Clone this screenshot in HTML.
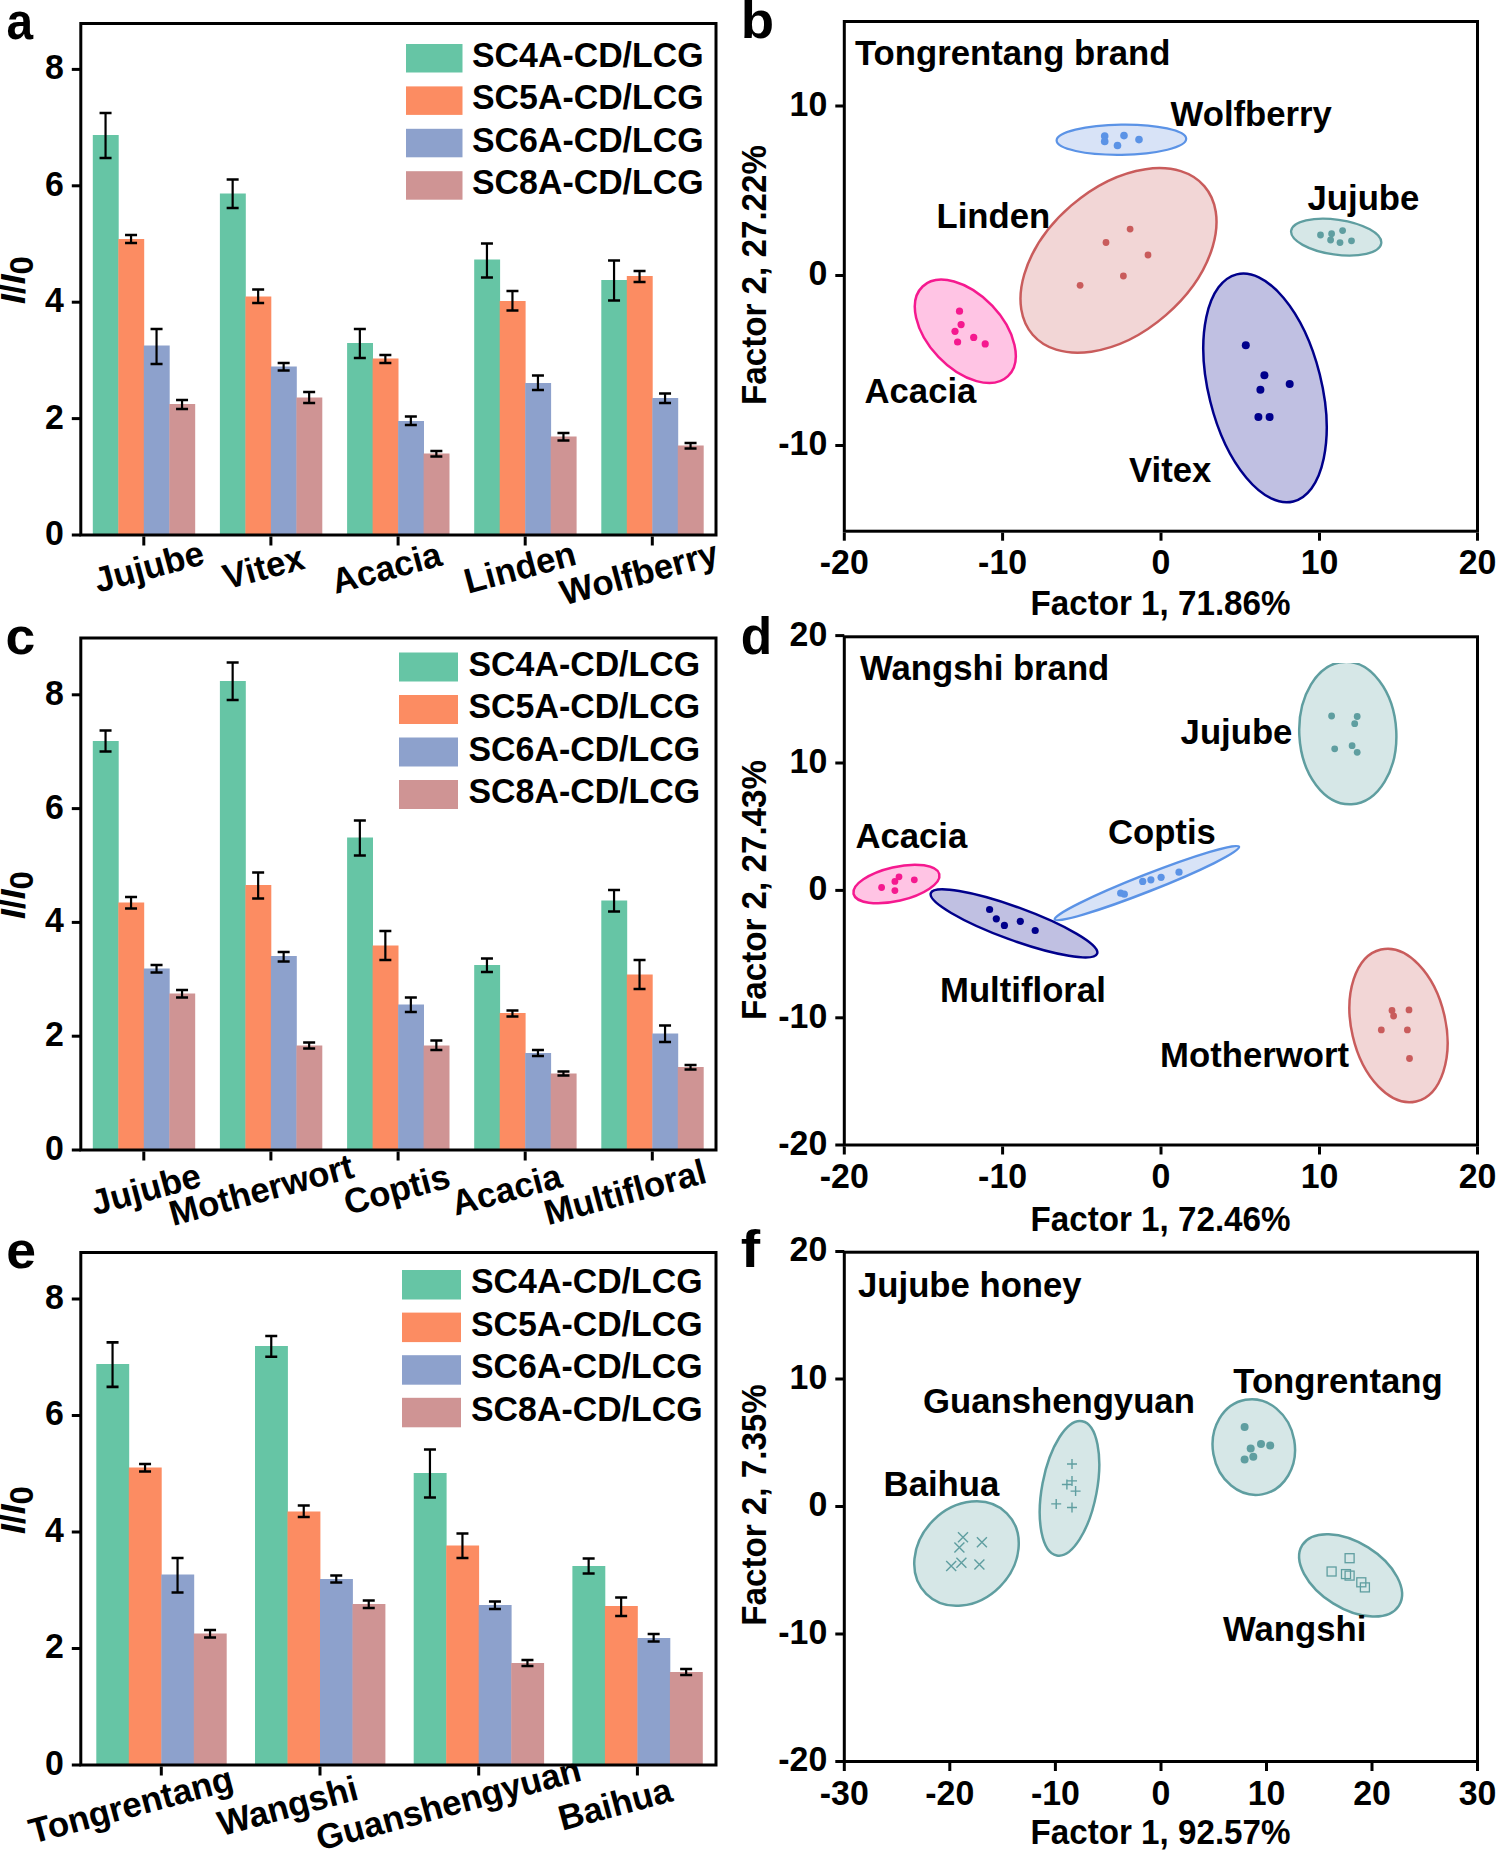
<!DOCTYPE html><html><head><meta charset="utf-8"><style>html,body{margin:0;padding:0;background:#fff;}svg{display:block;}text{font-family:"Liberation Sans",sans-serif;font-weight:bold;fill:#000;}</style></head><body>
<svg width="1496" height="1853" viewBox="0 0 1496 1853">
<rect width="1496" height="1853" fill="#fff"/>
<rect x="92.80" y="135" width="25.90" height="400.00" fill="#66c5a5"/>
<rect x="118.30" y="239" width="25.90" height="296.00" fill="#fc8c62"/>
<rect x="143.80" y="345.5" width="25.90" height="189.50" fill="#8da1cc"/>
<rect x="169.30" y="404" width="25.90" height="131.00" fill="#cf9494"/>
<path d="M105.55,113V158" stroke="#000" stroke-width="2.2" fill="none"/><path d="M99.55,113H111.55M99.55,158H111.55" stroke="#000" stroke-width="2.6" fill="none"/>
<path d="M131.05,235V243" stroke="#000" stroke-width="2.2" fill="none"/><path d="M125.05000000000001,235H137.05M125.05000000000001,243H137.05" stroke="#000" stroke-width="2.6" fill="none"/>
<path d="M156.55,329V364" stroke="#000" stroke-width="2.2" fill="none"/><path d="M150.55,329H162.55M150.55,364H162.55" stroke="#000" stroke-width="2.6" fill="none"/>
<path d="M182.05,400V409" stroke="#000" stroke-width="2.2" fill="none"/><path d="M176.05,400H188.05M176.05,409H188.05" stroke="#000" stroke-width="2.6" fill="none"/>
<rect x="219.90" y="193.5" width="25.90" height="341.50" fill="#66c5a5"/>
<rect x="245.40" y="296.5" width="25.90" height="238.50" fill="#fc8c62"/>
<rect x="270.90" y="366.5" width="25.90" height="168.50" fill="#8da1cc"/>
<rect x="296.40" y="397.5" width="25.90" height="137.50" fill="#cf9494"/>
<path d="M232.65,179.5V208" stroke="#000" stroke-width="2.2" fill="none"/><path d="M226.65,179.5H238.65M226.65,208H238.65" stroke="#000" stroke-width="2.6" fill="none"/>
<path d="M258.15,289.5V303" stroke="#000" stroke-width="2.2" fill="none"/><path d="M252.14999999999998,289.5H264.15M252.14999999999998,303H264.15" stroke="#000" stroke-width="2.6" fill="none"/>
<path d="M283.65,363V370.5" stroke="#000" stroke-width="2.2" fill="none"/><path d="M277.65,363H289.65M277.65,370.5H289.65" stroke="#000" stroke-width="2.6" fill="none"/>
<path d="M309.15,392V403" stroke="#000" stroke-width="2.2" fill="none"/><path d="M303.15,392H315.15M303.15,403H315.15" stroke="#000" stroke-width="2.6" fill="none"/>
<rect x="347.10" y="343" width="25.90" height="192.00" fill="#66c5a5"/>
<rect x="372.60" y="358.5" width="25.90" height="176.50" fill="#fc8c62"/>
<rect x="398.10" y="421" width="25.90" height="114.00" fill="#8da1cc"/>
<rect x="423.60" y="453.5" width="25.90" height="81.50" fill="#cf9494"/>
<path d="M359.85,329V358" stroke="#000" stroke-width="2.2" fill="none"/><path d="M353.85,329H365.85M353.85,358H365.85" stroke="#000" stroke-width="2.6" fill="none"/>
<path d="M385.35,355V363" stroke="#000" stroke-width="2.2" fill="none"/><path d="M379.35,355H391.35M379.35,363H391.35" stroke="#000" stroke-width="2.6" fill="none"/>
<path d="M410.85,416.5V425" stroke="#000" stroke-width="2.2" fill="none"/><path d="M404.85,416.5H416.85M404.85,425H416.85" stroke="#000" stroke-width="2.6" fill="none"/>
<path d="M436.35,451V456.5" stroke="#000" stroke-width="2.2" fill="none"/><path d="M430.35,451H442.35M430.35,456.5H442.35" stroke="#000" stroke-width="2.6" fill="none"/>
<rect x="474.20" y="259.5" width="25.90" height="275.50" fill="#66c5a5"/>
<rect x="499.70" y="301" width="25.90" height="234.00" fill="#fc8c62"/>
<rect x="525.20" y="383" width="25.90" height="152.00" fill="#8da1cc"/>
<rect x="550.70" y="436.5" width="25.90" height="98.50" fill="#cf9494"/>
<path d="M486.95,243.5V277.5" stroke="#000" stroke-width="2.2" fill="none"/><path d="M480.95,243.5H492.95M480.95,277.5H492.95" stroke="#000" stroke-width="2.6" fill="none"/>
<path d="M512.45,291V310.5" stroke="#000" stroke-width="2.2" fill="none"/><path d="M506.45000000000005,291H518.45M506.45000000000005,310.5H518.45" stroke="#000" stroke-width="2.6" fill="none"/>
<path d="M537.95,375.5V390" stroke="#000" stroke-width="2.2" fill="none"/><path d="M531.95,375.5H543.95M531.95,390H543.95" stroke="#000" stroke-width="2.6" fill="none"/>
<path d="M563.45,433V440.5" stroke="#000" stroke-width="2.2" fill="none"/><path d="M557.45,433H569.45M557.45,440.5H569.45" stroke="#000" stroke-width="2.6" fill="none"/>
<rect x="601.30" y="280" width="25.90" height="255.00" fill="#66c5a5"/>
<rect x="626.80" y="276" width="25.90" height="259.00" fill="#fc8c62"/>
<rect x="652.30" y="398" width="25.90" height="137.00" fill="#8da1cc"/>
<rect x="677.80" y="445.5" width="25.90" height="89.50" fill="#cf9494"/>
<path d="M614.05,260.5V300.5" stroke="#000" stroke-width="2.2" fill="none"/><path d="M608.05,260.5H620.05M608.05,300.5H620.05" stroke="#000" stroke-width="2.6" fill="none"/>
<path d="M639.55,271V282" stroke="#000" stroke-width="2.2" fill="none"/><path d="M633.55,271H645.55M633.55,282H645.55" stroke="#000" stroke-width="2.6" fill="none"/>
<path d="M665.05,393.5V403" stroke="#000" stroke-width="2.2" fill="none"/><path d="M659.05,393.5H671.05M659.05,403H671.05" stroke="#000" stroke-width="2.6" fill="none"/>
<path d="M690.55,443V448.5" stroke="#000" stroke-width="2.2" fill="none"/><path d="M684.55,443H696.55M684.55,448.5H696.55" stroke="#000" stroke-width="2.6" fill="none"/>
<rect x="80.8" y="23.5" width="635.2" height="511.5" fill="none" stroke="#000" stroke-width="3"/>
<line x1="71.8" y1="535.0" x2="80.8" y2="535.0" stroke="#000" stroke-width="3"/>
<text transform="translate(63.8,544.9) scale(0.96,1)" text-anchor="end" font-size="35.3" >0</text>
<line x1="71.8" y1="418.6" x2="80.8" y2="418.6" stroke="#000" stroke-width="3"/>
<text transform="translate(63.8,428.5) scale(0.96,1)" text-anchor="end" font-size="35.3" >2</text>
<line x1="71.8" y1="302.2" x2="80.8" y2="302.2" stroke="#000" stroke-width="3"/>
<text transform="translate(63.8,312.09999999999997) scale(0.96,1)" text-anchor="end" font-size="35.3" >4</text>
<line x1="71.8" y1="185.79999999999995" x2="80.8" y2="185.79999999999995" stroke="#000" stroke-width="3"/>
<text transform="translate(63.8,195.69999999999996) scale(0.96,1)" text-anchor="end" font-size="35.3" >6</text>
<line x1="71.8" y1="69.39999999999998" x2="80.8" y2="69.39999999999998" stroke="#000" stroke-width="3"/>
<text transform="translate(63.8,79.29999999999998) scale(0.96,1)" text-anchor="end" font-size="35.3" >8</text>
<line x1="143.8" y1="536.5" x2="143.8" y2="545.5" stroke="#000" stroke-width="3"/>
<line x1="270.9" y1="536.5" x2="270.9" y2="545.5" stroke="#000" stroke-width="3"/>
<line x1="398.1" y1="536.5" x2="398.1" y2="545.5" stroke="#000" stroke-width="3"/>
<line x1="525.2" y1="536.5" x2="525.2" y2="545.5" stroke="#000" stroke-width="3"/>
<line x1="652.3" y1="536.5" x2="652.3" y2="545.5" stroke="#000" stroke-width="3"/>
<rect x="406" y="44.0" width="56.5" height="28.5" fill="#66c5a5"/>
<text transform="translate(472,66.75) scale(0.96,1)" text-anchor="start" font-size="35.3" >SC4A-CD/LCG</text>
<rect x="406" y="86.4" width="56.5" height="28.5" fill="#fc8c62"/>
<text transform="translate(472,109.15) scale(0.96,1)" text-anchor="start" font-size="35.3" >SC5A-CD/LCG</text>
<rect x="406" y="128.8" width="56.5" height="28.5" fill="#8da1cc"/>
<text transform="translate(472,151.55) scale(0.96,1)" text-anchor="start" font-size="35.3" >SC6A-CD/LCG</text>
<rect x="406" y="171.2" width="56.5" height="28.5" fill="#cf9494"/>
<text transform="translate(472,193.95) scale(0.96,1)" text-anchor="start" font-size="35.3" >SC8A-CD/LCG</text>
<text class="rl" transform="translate(149,566.6) rotate(-15) scale(0.985,1)" x="0" y="12" text-anchor="middle" font-size="35.3">Jujube</text>
<text class="rl" transform="translate(263.5,567.3) rotate(-15) scale(0.985,1)" x="0" y="12" text-anchor="middle" font-size="35.3">Vitex</text>
<text class="rl" transform="translate(386.5,568) rotate(-15) scale(0.985,1)" x="0" y="12" text-anchor="middle" font-size="35.3">Acacia</text>
<text class="rl" transform="translate(520,567.3) rotate(-15) scale(0.985,1)" x="0" y="12" text-anchor="middle" font-size="35.3">Linden</text>
<text class="rl" transform="translate(639,573) rotate(-15) scale(0.985,1)" x="0" y="12" text-anchor="middle" font-size="35.3">Wolfberry</text>
<text transform="translate(6.5,38.9) scale(0.92,1)" text-anchor="start" font-size="52" >a</text>
<text transform="translate(25,280) rotate(-90)" x="0" y="0" text-anchor="middle" font-size="35.3"><tspan font-style="italic">I</tspan>/<tspan font-style="italic">I</tspan><tspan font-size="33" dy="8">0</tspan></text>
<rect x="92.80" y="741" width="25.90" height="409.00" fill="#66c5a5"/>
<rect x="118.30" y="902.5" width="25.90" height="247.50" fill="#fc8c62"/>
<rect x="143.80" y="968.5" width="25.90" height="181.50" fill="#8da1cc"/>
<rect x="169.30" y="993.5" width="25.90" height="156.50" fill="#cf9494"/>
<path d="M105.55,730.5V751.5" stroke="#000" stroke-width="2.2" fill="none"/><path d="M99.55,730.5H111.55M99.55,751.5H111.55" stroke="#000" stroke-width="2.6" fill="none"/>
<path d="M131.05,897V908.5" stroke="#000" stroke-width="2.2" fill="none"/><path d="M125.05000000000001,897H137.05M125.05000000000001,908.5H137.05" stroke="#000" stroke-width="2.6" fill="none"/>
<path d="M156.55,965V972.5" stroke="#000" stroke-width="2.2" fill="none"/><path d="M150.55,965H162.55M150.55,972.5H162.55" stroke="#000" stroke-width="2.6" fill="none"/>
<path d="M182.05,990V997.5" stroke="#000" stroke-width="2.2" fill="none"/><path d="M176.05,990H188.05M176.05,997.5H188.05" stroke="#000" stroke-width="2.6" fill="none"/>
<rect x="219.90" y="681" width="25.90" height="469.00" fill="#66c5a5"/>
<rect x="245.40" y="885" width="25.90" height="265.00" fill="#fc8c62"/>
<rect x="270.90" y="956" width="25.90" height="194.00" fill="#8da1cc"/>
<rect x="296.40" y="1045.5" width="25.90" height="104.50" fill="#cf9494"/>
<path d="M232.65,662.5V700" stroke="#000" stroke-width="2.2" fill="none"/><path d="M226.65,662.5H238.65M226.65,700H238.65" stroke="#000" stroke-width="2.6" fill="none"/>
<path d="M258.15,872.5V898.5" stroke="#000" stroke-width="2.2" fill="none"/><path d="M252.14999999999998,872.5H264.15M252.14999999999998,898.5H264.15" stroke="#000" stroke-width="2.6" fill="none"/>
<path d="M283.65,952V961.5" stroke="#000" stroke-width="2.2" fill="none"/><path d="M277.65,952H289.65M277.65,961.5H289.65" stroke="#000" stroke-width="2.6" fill="none"/>
<path d="M309.15,1042.5V1048.5" stroke="#000" stroke-width="2.2" fill="none"/><path d="M303.15,1042.5H315.15M303.15,1048.5H315.15" stroke="#000" stroke-width="2.6" fill="none"/>
<rect x="347.10" y="837.5" width="25.90" height="312.50" fill="#66c5a5"/>
<rect x="372.60" y="945.5" width="25.90" height="204.50" fill="#fc8c62"/>
<rect x="398.10" y="1004.5" width="25.90" height="145.50" fill="#8da1cc"/>
<rect x="423.60" y="1045.5" width="25.90" height="104.50" fill="#cf9494"/>
<path d="M359.85,820.5V855.5" stroke="#000" stroke-width="2.2" fill="none"/><path d="M353.85,820.5H365.85M353.85,855.5H365.85" stroke="#000" stroke-width="2.6" fill="none"/>
<path d="M385.35,931V960" stroke="#000" stroke-width="2.2" fill="none"/><path d="M379.35,931H391.35M379.35,960H391.35" stroke="#000" stroke-width="2.6" fill="none"/>
<path d="M410.85,997.5V1012" stroke="#000" stroke-width="2.2" fill="none"/><path d="M404.85,997.5H416.85M404.85,1012H416.85" stroke="#000" stroke-width="2.6" fill="none"/>
<path d="M436.35,1040.5V1050" stroke="#000" stroke-width="2.2" fill="none"/><path d="M430.35,1040.5H442.35M430.35,1050H442.35" stroke="#000" stroke-width="2.6" fill="none"/>
<rect x="474.20" y="965" width="25.90" height="185.00" fill="#66c5a5"/>
<rect x="499.70" y="1013" width="25.90" height="137.00" fill="#fc8c62"/>
<rect x="525.20" y="1053" width="25.90" height="97.00" fill="#8da1cc"/>
<rect x="550.70" y="1073.5" width="25.90" height="76.50" fill="#cf9494"/>
<path d="M486.95,958.5V972" stroke="#000" stroke-width="2.2" fill="none"/><path d="M480.95,958.5H492.95M480.95,972H492.95" stroke="#000" stroke-width="2.6" fill="none"/>
<path d="M512.45,1010.5V1016.5" stroke="#000" stroke-width="2.2" fill="none"/><path d="M506.45000000000005,1010.5H518.45M506.45000000000005,1016.5H518.45" stroke="#000" stroke-width="2.6" fill="none"/>
<path d="M537.95,1050V1056" stroke="#000" stroke-width="2.2" fill="none"/><path d="M531.95,1050H543.95M531.95,1056H543.95" stroke="#000" stroke-width="2.6" fill="none"/>
<path d="M563.45,1071.5V1075.5" stroke="#000" stroke-width="2.2" fill="none"/><path d="M557.45,1071.5H569.45M557.45,1075.5H569.45" stroke="#000" stroke-width="2.6" fill="none"/>
<rect x="601.30" y="900.5" width="25.90" height="249.50" fill="#66c5a5"/>
<rect x="626.80" y="974.5" width="25.90" height="175.50" fill="#fc8c62"/>
<rect x="652.30" y="1033.5" width="25.90" height="116.50" fill="#8da1cc"/>
<rect x="677.80" y="1067" width="25.90" height="83.00" fill="#cf9494"/>
<path d="M614.05,890V911.5" stroke="#000" stroke-width="2.2" fill="none"/><path d="M608.05,890H620.05M608.05,911.5H620.05" stroke="#000" stroke-width="2.6" fill="none"/>
<path d="M639.55,960V989" stroke="#000" stroke-width="2.2" fill="none"/><path d="M633.55,960H645.55M633.55,989H645.55" stroke="#000" stroke-width="2.6" fill="none"/>
<path d="M665.05,1025.5V1042" stroke="#000" stroke-width="2.2" fill="none"/><path d="M659.05,1025.5H671.05M659.05,1042H671.05" stroke="#000" stroke-width="2.6" fill="none"/>
<path d="M690.55,1065V1069.5" stroke="#000" stroke-width="2.2" fill="none"/><path d="M684.55,1065H696.55M684.55,1069.5H696.55" stroke="#000" stroke-width="2.6" fill="none"/>
<rect x="80.8" y="638" width="635.2" height="512" fill="none" stroke="#000" stroke-width="3"/>
<line x1="71.8" y1="1150.0" x2="80.8" y2="1150.0" stroke="#000" stroke-width="3"/>
<text transform="translate(63.8,1159.9) scale(0.96,1)" text-anchor="end" font-size="35.3" >0</text>
<line x1="71.8" y1="1036.2" x2="80.8" y2="1036.2" stroke="#000" stroke-width="3"/>
<text transform="translate(63.8,1046.1000000000001) scale(0.96,1)" text-anchor="end" font-size="35.3" >2</text>
<line x1="71.8" y1="922.4" x2="80.8" y2="922.4" stroke="#000" stroke-width="3"/>
<text transform="translate(63.8,932.3) scale(0.96,1)" text-anchor="end" font-size="35.3" >4</text>
<line x1="71.8" y1="808.6" x2="80.8" y2="808.6" stroke="#000" stroke-width="3"/>
<text transform="translate(63.8,818.5) scale(0.96,1)" text-anchor="end" font-size="35.3" >6</text>
<line x1="71.8" y1="694.8" x2="80.8" y2="694.8" stroke="#000" stroke-width="3"/>
<text transform="translate(63.8,704.6999999999999) scale(0.96,1)" text-anchor="end" font-size="35.3" >8</text>
<line x1="143.8" y1="1151.5" x2="143.8" y2="1160.5" stroke="#000" stroke-width="3"/>
<line x1="270.9" y1="1151.5" x2="270.9" y2="1160.5" stroke="#000" stroke-width="3"/>
<line x1="398.1" y1="1151.5" x2="398.1" y2="1160.5" stroke="#000" stroke-width="3"/>
<line x1="525.2" y1="1151.5" x2="525.2" y2="1160.5" stroke="#000" stroke-width="3"/>
<line x1="652.3" y1="1151.5" x2="652.3" y2="1160.5" stroke="#000" stroke-width="3"/>
<rect x="399" y="652.5" width="59" height="29" fill="#66c5a5"/>
<text transform="translate(468.5,675.5) scale(0.96,1)" text-anchor="start" font-size="35.3" >SC4A-CD/LCG</text>
<rect x="399" y="695.0" width="59" height="29" fill="#fc8c62"/>
<text transform="translate(468.5,718.0) scale(0.96,1)" text-anchor="start" font-size="35.3" >SC5A-CD/LCG</text>
<rect x="399" y="737.5" width="59" height="29" fill="#8da1cc"/>
<text transform="translate(468.5,760.5) scale(0.96,1)" text-anchor="start" font-size="35.3" >SC6A-CD/LCG</text>
<rect x="399" y="780.0" width="59" height="29" fill="#cf9494"/>
<text transform="translate(468.5,803.0) scale(0.96,1)" text-anchor="start" font-size="35.3" >SC8A-CD/LCG</text>
<text class="rl" transform="translate(145.7,1189.2) rotate(-15) scale(0.985,1)" x="0" y="12" text-anchor="middle" font-size="35.3">Jujube</text>
<text class="rl" transform="translate(261.3,1190) rotate(-15) scale(0.985,1)" x="0" y="12" text-anchor="middle" font-size="35.3">Motherwort</text>
<text class="rl" transform="translate(396.8,1189.5) rotate(-15) scale(0.985,1)" x="0" y="12" text-anchor="middle" font-size="35.3">Coptis</text>
<text class="rl" transform="translate(506.6,1189.6) rotate(-15) scale(0.985,1)" x="0" y="12" text-anchor="middle" font-size="35.3">Acacia</text>
<text class="rl" transform="translate(625,1192.1) rotate(-15) scale(0.985,1)" x="0" y="12" text-anchor="middle" font-size="35.3">Multifloral</text>
<text transform="translate(5.4,653.8) scale(1.03,1)" text-anchor="start" font-size="52" >c</text>
<text transform="translate(25,895) rotate(-90)" x="0" y="0" text-anchor="middle" font-size="35.3"><tspan font-style="italic">I</tspan>/<tspan font-style="italic">I</tspan><tspan font-size="33" dy="8">0</tspan></text>
<rect x="96.30" y="1364" width="32.90" height="401.00" fill="#66c5a5"/>
<rect x="128.80" y="1467.5" width="32.90" height="297.50" fill="#fc8c62"/>
<rect x="161.30" y="1574.5" width="32.90" height="190.50" fill="#8da1cc"/>
<rect x="193.80" y="1633.5" width="32.90" height="131.50" fill="#cf9494"/>
<path d="M112.55,1342.4V1386.9" stroke="#000" stroke-width="2.2" fill="none"/><path d="M106.55,1342.4H118.55M106.55,1386.9H118.55" stroke="#000" stroke-width="2.6" fill="none"/>
<path d="M145.05,1464V1471.5" stroke="#000" stroke-width="2.2" fill="none"/><path d="M139.05,1464H151.05M139.05,1471.5H151.05" stroke="#000" stroke-width="2.6" fill="none"/>
<path d="M177.55,1558V1592.5" stroke="#000" stroke-width="2.2" fill="none"/><path d="M171.55,1558H183.55M171.55,1592.5H183.55" stroke="#000" stroke-width="2.6" fill="none"/>
<path d="M210.05,1630V1637.5" stroke="#000" stroke-width="2.2" fill="none"/><path d="M204.05,1630H216.05M204.05,1637.5H216.05" stroke="#000" stroke-width="2.6" fill="none"/>
<rect x="255.00" y="1346" width="32.90" height="419.00" fill="#66c5a5"/>
<rect x="287.50" y="1511.5" width="32.90" height="253.50" fill="#fc8c62"/>
<rect x="320.00" y="1579" width="32.90" height="186.00" fill="#8da1cc"/>
<rect x="352.50" y="1604" width="32.90" height="161.00" fill="#cf9494"/>
<path d="M271.25,1336V1356.7" stroke="#000" stroke-width="2.2" fill="none"/><path d="M265.25,1336H277.25M265.25,1356.7H277.25" stroke="#000" stroke-width="2.6" fill="none"/>
<path d="M303.75,1505.5V1517" stroke="#000" stroke-width="2.2" fill="none"/><path d="M297.75,1505.5H309.75M297.75,1517H309.75" stroke="#000" stroke-width="2.6" fill="none"/>
<path d="M336.25,1575.5V1582.5" stroke="#000" stroke-width="2.2" fill="none"/><path d="M330.25,1575.5H342.25M330.25,1582.5H342.25" stroke="#000" stroke-width="2.6" fill="none"/>
<path d="M368.75,1600.5V1608" stroke="#000" stroke-width="2.2" fill="none"/><path d="M362.75,1600.5H374.75M362.75,1608H374.75" stroke="#000" stroke-width="2.6" fill="none"/>
<rect x="413.70" y="1473" width="32.90" height="292.00" fill="#66c5a5"/>
<rect x="446.20" y="1545.5" width="32.90" height="219.50" fill="#fc8c62"/>
<rect x="478.70" y="1605" width="32.90" height="160.00" fill="#8da1cc"/>
<rect x="511.20" y="1663" width="32.90" height="102.00" fill="#cf9494"/>
<path d="M429.95,1449.5V1497.5" stroke="#000" stroke-width="2.2" fill="none"/><path d="M423.95,1449.5H435.95M423.95,1497.5H435.95" stroke="#000" stroke-width="2.6" fill="none"/>
<path d="M462.45,1533.5V1558" stroke="#000" stroke-width="2.2" fill="none"/><path d="M456.45,1533.5H468.45M456.45,1558H468.45" stroke="#000" stroke-width="2.6" fill="none"/>
<path d="M494.95,1601.5V1609" stroke="#000" stroke-width="2.2" fill="none"/><path d="M488.95,1601.5H500.95M488.95,1609H500.95" stroke="#000" stroke-width="2.6" fill="none"/>
<path d="M527.45,1660V1666" stroke="#000" stroke-width="2.2" fill="none"/><path d="M521.45,1660H533.45M521.45,1666H533.45" stroke="#000" stroke-width="2.6" fill="none"/>
<rect x="572.40" y="1566" width="32.90" height="199.00" fill="#66c5a5"/>
<rect x="604.90" y="1606" width="32.90" height="159.00" fill="#fc8c62"/>
<rect x="637.40" y="1638" width="32.90" height="127.00" fill="#8da1cc"/>
<rect x="669.90" y="1672" width="32.90" height="93.00" fill="#cf9494"/>
<path d="M588.65,1558.5V1573.5" stroke="#000" stroke-width="2.2" fill="none"/><path d="M582.65,1558.5H594.65M582.65,1573.5H594.65" stroke="#000" stroke-width="2.6" fill="none"/>
<path d="M621.15,1597.5V1616" stroke="#000" stroke-width="2.2" fill="none"/><path d="M615.15,1597.5H627.15M615.15,1616H627.15" stroke="#000" stroke-width="2.6" fill="none"/>
<path d="M653.65,1634V1641.5" stroke="#000" stroke-width="2.2" fill="none"/><path d="M647.65,1634H659.65M647.65,1641.5H659.65" stroke="#000" stroke-width="2.6" fill="none"/>
<path d="M686.15,1669V1675" stroke="#000" stroke-width="2.2" fill="none"/><path d="M680.15,1669H692.15M680.15,1675H692.15" stroke="#000" stroke-width="2.6" fill="none"/>
<rect x="80.8" y="1252.5" width="635.2" height="512.5" fill="none" stroke="#000" stroke-width="3"/>
<line x1="71.8" y1="1765.0" x2="80.8" y2="1765.0" stroke="#000" stroke-width="3"/>
<text transform="translate(63.8,1774.9) scale(0.96,1)" text-anchor="end" font-size="35.3" >0</text>
<line x1="71.8" y1="1648.5" x2="80.8" y2="1648.5" stroke="#000" stroke-width="3"/>
<text transform="translate(63.8,1658.4) scale(0.96,1)" text-anchor="end" font-size="35.3" >2</text>
<line x1="71.8" y1="1532.0" x2="80.8" y2="1532.0" stroke="#000" stroke-width="3"/>
<text transform="translate(63.8,1541.9) scale(0.96,1)" text-anchor="end" font-size="35.3" >4</text>
<line x1="71.8" y1="1415.5" x2="80.8" y2="1415.5" stroke="#000" stroke-width="3"/>
<text transform="translate(63.8,1425.4) scale(0.96,1)" text-anchor="end" font-size="35.3" >6</text>
<line x1="71.8" y1="1299.0" x2="80.8" y2="1299.0" stroke="#000" stroke-width="3"/>
<text transform="translate(63.8,1308.9) scale(0.96,1)" text-anchor="end" font-size="35.3" >8</text>
<line x1="161.3" y1="1766.5" x2="161.3" y2="1775.5" stroke="#000" stroke-width="3"/>
<line x1="320.0" y1="1766.5" x2="320.0" y2="1775.5" stroke="#000" stroke-width="3"/>
<line x1="478.7" y1="1766.5" x2="478.7" y2="1775.5" stroke="#000" stroke-width="3"/>
<line x1="637.4" y1="1766.5" x2="637.4" y2="1775.5" stroke="#000" stroke-width="3"/>
<rect x="402" y="1270.0" width="59" height="29.5" fill="#66c5a5"/>
<text transform="translate(471,1293.25) scale(0.96,1)" text-anchor="start" font-size="35.3" >SC4A-CD/LCG</text>
<rect x="402" y="1312.6" width="59" height="29.5" fill="#fc8c62"/>
<text transform="translate(471,1335.85) scale(0.96,1)" text-anchor="start" font-size="35.3" >SC5A-CD/LCG</text>
<rect x="402" y="1355.2" width="59" height="29.5" fill="#8da1cc"/>
<text transform="translate(471,1378.45) scale(0.96,1)" text-anchor="start" font-size="35.3" >SC6A-CD/LCG</text>
<rect x="402" y="1397.8" width="59" height="29.5" fill="#cf9494"/>
<text transform="translate(471,1421.05) scale(0.96,1)" text-anchor="start" font-size="35.3" >SC8A-CD/LCG</text>
<text class="rl" transform="translate(130.9,1805) rotate(-15) scale(0.985,1)" x="0" y="12" text-anchor="middle" font-size="35.3">Tongrentang</text>
<text class="rl" transform="translate(287.7,1806) rotate(-15) scale(0.985,1)" x="0" y="12" text-anchor="middle" font-size="35.3">Wangshi</text>
<text class="rl" transform="translate(448.5,1804) rotate(-15) scale(0.985,1)" x="0" y="12" text-anchor="middle" font-size="35.3">Guanshengyuan</text>
<text class="rl" transform="translate(615,1804.2) rotate(-15) scale(0.985,1)" x="0" y="12" text-anchor="middle" font-size="35.3">Baihua</text>
<text transform="translate(6.2,1267.9) scale(1.03,1)" text-anchor="start" font-size="52" >e</text>
<text transform="translate(25,1510) rotate(-90)" x="0" y="0" text-anchor="middle" font-size="35.3"><tspan font-style="italic">I</tspan>/<tspan font-style="italic">I</tspan><tspan font-size="33" dy="8">0</tspan></text>
<rect x="844.3" y="21.5" width="633.2" height="509.70000000000005" fill="none" stroke="#000" stroke-width="3"/>
<line x1="835.3" y1="106" x2="844.3" y2="106" stroke="#000" stroke-width="3"/>
<text transform="translate(827.3,115.9) scale(0.96,1)" text-anchor="end" font-size="35.3" >10</text>
<line x1="835.3" y1="275.5" x2="844.3" y2="275.5" stroke="#000" stroke-width="3"/>
<text transform="translate(827.3,285.4) scale(0.96,1)" text-anchor="end" font-size="35.3" >0</text>
<line x1="835.3" y1="445.5" x2="844.3" y2="445.5" stroke="#000" stroke-width="3"/>
<text transform="translate(827.3,455.4) scale(0.96,1)" text-anchor="end" font-size="35.3" >-10</text>
<line x1="844.3" y1="532.7" x2="844.3" y2="540.7" stroke="#000" stroke-width="3"/>
<text transform="translate(844.3,574.2) scale(0.96,1)" text-anchor="middle" font-size="35.3" >-20</text>
<line x1="1002.6" y1="532.7" x2="1002.6" y2="540.7" stroke="#000" stroke-width="3"/>
<text transform="translate(1002.6,574.2) scale(0.96,1)" text-anchor="middle" font-size="35.3" >-10</text>
<line x1="1161" y1="532.7" x2="1161" y2="540.7" stroke="#000" stroke-width="3"/>
<text transform="translate(1161,574.2) scale(0.96,1)" text-anchor="middle" font-size="35.3" >0</text>
<line x1="1319.5" y1="532.7" x2="1319.5" y2="540.7" stroke="#000" stroke-width="3"/>
<text transform="translate(1319.5,574.2) scale(0.96,1)" text-anchor="middle" font-size="35.3" >10</text>
<line x1="1477.5" y1="532.7" x2="1477.5" y2="540.7" stroke="#000" stroke-width="3"/>
<text transform="translate(1477.5,574.2) scale(0.96,1)" text-anchor="middle" font-size="35.3" >20</text>
<text transform="translate(740.8,38.1) scale(1.05,1)" text-anchor="start" font-size="52" >b</text>
<text transform="translate(855,65.2) scale(0.983,1)" text-anchor="start" font-size="35.3" >Tongrentang brand</text>
<text transform="translate(1160.5,615.2) scale(0.94,1)" text-anchor="middle" font-size="35.3" >Factor 1, 71.86%</text>
<text transform="translate(766,275) rotate(-90) scale(0.94,1)" x="0" y="0" text-anchor="middle" font-size="35.3">Factor 2, 27.22%</text>
<ellipse cx="1121.4" cy="139.7" rx="64.8" ry="15.1" transform="rotate(-0.8 1121.4 139.7)" fill="#d8e3f7" stroke="#5b93e6" stroke-width="2.2"/>
<circle cx="1104.7" cy="136.1" r="3.8" fill="#5b93e6"/>
<circle cx="1104.7" cy="141.4" r="3.8" fill="#5b93e6"/>
<circle cx="1117.5" cy="145.5" r="3.8" fill="#5b93e6"/>
<circle cx="1124" cy="135.6" r="3.8" fill="#5b93e6"/>
<circle cx="1139" cy="139.6" r="3.8" fill="#5b93e6"/>
<ellipse cx="1118.5" cy="260.4" rx="113.5" ry="72.4" transform="rotate(-40.9 1118.5 260.4)" fill="#f2d6d6" stroke="#c95c5c" stroke-width="2.5"/>
<circle cx="1130.1" cy="229.1" r="3.4" fill="#c95c5c"/>
<circle cx="1106" cy="242.5" r="3.4" fill="#c95c5c"/>
<circle cx="1148" cy="255" r="3.4" fill="#c95c5c"/>
<circle cx="1123.4" cy="276" r="3.4" fill="#c95c5c"/>
<circle cx="1080.1" cy="285.3" r="3.4" fill="#c95c5c"/>
<ellipse cx="965.3" cy="331.3" rx="61.9" ry="37.1" transform="rotate(46.4 965.3 331.3)" fill="#ffc4e4" stroke="#f5198f" stroke-width="2.5"/>
<circle cx="959.5" cy="311.2" r="3.6" fill="#f5198f"/>
<circle cx="961.1" cy="324.6" r="3.6" fill="#f5198f"/>
<circle cx="955" cy="331.3" r="3.6" fill="#f5198f"/>
<circle cx="957.6" cy="342" r="3.6" fill="#f5198f"/>
<circle cx="973.7" cy="337.4" r="3.6" fill="#f5198f"/>
<circle cx="985.2" cy="343.9" r="3.6" fill="#f5198f"/>
<ellipse cx="1336.2" cy="237.1" rx="45.5" ry="17.5" transform="rotate(8 1336.2 237.1)" fill="#d6e7e7" stroke="#5f9ea0" stroke-width="2.3"/>
<circle cx="1320.5" cy="235" r="3.4" fill="#5f9ea0"/>
<circle cx="1331.6" cy="233.7" r="3.4" fill="#5f9ea0"/>
<circle cx="1330.6" cy="240" r="3.4" fill="#5f9ea0"/>
<circle cx="1342.6" cy="230.6" r="3.4" fill="#5f9ea0"/>
<circle cx="1340" cy="242.6" r="3.4" fill="#5f9ea0"/>
<circle cx="1351.5" cy="240.8" r="3.4" fill="#5f9ea0"/>
<ellipse cx="1265" cy="387.9" rx="56.4" ry="117" transform="rotate(-14 1265 387.9)" fill="#c0c0e2" stroke="#00008b" stroke-width="2.5"/>
<circle cx="1245.8" cy="345.2" r="4" fill="#00008b"/>
<circle cx="1264.4" cy="375.3" r="4" fill="#00008b"/>
<circle cx="1260.4" cy="389.7" r="4" fill="#00008b"/>
<circle cx="1289.7" cy="383.9" r="4" fill="#00008b"/>
<circle cx="1258.4" cy="417" r="4" fill="#00008b"/>
<circle cx="1269.6" cy="417" r="4" fill="#00008b"/>
<text transform="translate(1170.6,125.7) scale(0.983,1)" text-anchor="start" font-size="35.3" >Wolfberry</text>
<text transform="translate(936.5,227.8) scale(0.983,1)" text-anchor="start" font-size="35.3" >Linden</text>
<text transform="translate(1307.5,209.5) scale(0.983,1)" text-anchor="start" font-size="35.3" >Jujube</text>
<text transform="translate(864.5,403) scale(0.983,1)" text-anchor="start" font-size="35.3" >Acacia</text>
<text transform="translate(1129,481.6) scale(0.983,1)" text-anchor="start" font-size="35.3" >Vitex</text>
<rect x="844.3" y="636.8" width="633.2" height="508.20000000000005" fill="none" stroke="#000" stroke-width="3"/>
<line x1="835.3" y1="635.6" x2="844.3" y2="635.6" stroke="#000" stroke-width="3"/>
<text transform="translate(827.3,645.5) scale(0.96,1)" text-anchor="end" font-size="35.3" >20</text>
<line x1="835.3" y1="763" x2="844.3" y2="763" stroke="#000" stroke-width="3"/>
<text transform="translate(827.3,772.9) scale(0.96,1)" text-anchor="end" font-size="35.3" >10</text>
<line x1="835.3" y1="890.4" x2="844.3" y2="890.4" stroke="#000" stroke-width="3"/>
<text transform="translate(827.3,900.3) scale(0.96,1)" text-anchor="end" font-size="35.3" >0</text>
<line x1="835.3" y1="1017.8" x2="844.3" y2="1017.8" stroke="#000" stroke-width="3"/>
<text transform="translate(827.3,1027.7) scale(0.96,1)" text-anchor="end" font-size="35.3" >-10</text>
<line x1="835.3" y1="1145" x2="844.3" y2="1145" stroke="#000" stroke-width="3"/>
<text transform="translate(827.3,1154.9) scale(0.96,1)" text-anchor="end" font-size="35.3" >-20</text>
<line x1="844.3" y1="1146.5" x2="844.3" y2="1154.5" stroke="#000" stroke-width="3"/>
<text transform="translate(844.3,1188) scale(0.96,1)" text-anchor="middle" font-size="35.3" >-20</text>
<line x1="1002.6" y1="1146.5" x2="1002.6" y2="1154.5" stroke="#000" stroke-width="3"/>
<text transform="translate(1002.6,1188) scale(0.96,1)" text-anchor="middle" font-size="35.3" >-10</text>
<line x1="1161" y1="1146.5" x2="1161" y2="1154.5" stroke="#000" stroke-width="3"/>
<text transform="translate(1161,1188) scale(0.96,1)" text-anchor="middle" font-size="35.3" >0</text>
<line x1="1319.5" y1="1146.5" x2="1319.5" y2="1154.5" stroke="#000" stroke-width="3"/>
<text transform="translate(1319.5,1188) scale(0.96,1)" text-anchor="middle" font-size="35.3" >10</text>
<line x1="1477.5" y1="1146.5" x2="1477.5" y2="1154.5" stroke="#000" stroke-width="3"/>
<text transform="translate(1477.5,1188) scale(0.96,1)" text-anchor="middle" font-size="35.3" >20</text>
<text transform="translate(740.8,653.6) scale(0.99,1)" text-anchor="start" font-size="52" >d</text>
<text transform="translate(860,680.1) scale(0.983,1)" text-anchor="start" font-size="35.3" >Wangshi brand</text>
<text transform="translate(1160.5,1230.6) scale(0.94,1)" text-anchor="middle" font-size="35.3" >Factor 1, 72.46%</text>
<text transform="translate(766,890) rotate(-90) scale(0.94,1)" x="0" y="0" text-anchor="middle" font-size="35.3">Factor 2, 27.43%</text>
<clipPath id="cjd"><rect x="1280" y="663" width="140" height="160"/></clipPath><g clip-path="url(#cjd)">
<ellipse cx="1347.8" cy="733.1" rx="48.5" ry="71.3" transform="rotate(-3 1347.8 733.1)" fill="#d6e7e7" stroke="#5f9ea0" stroke-width="2.5"/>
</g>
<circle cx="1331.6" cy="716" r="3.4" fill="#5f9ea0"/>
<circle cx="1357.2" cy="716.5" r="3.4" fill="#5f9ea0"/>
<circle cx="1354.7" cy="723.7" r="3.4" fill="#5f9ea0"/>
<circle cx="1334.7" cy="748.8" r="3.4" fill="#5f9ea0"/>
<circle cx="1352.1" cy="745.7" r="3.4" fill="#5f9ea0"/>
<circle cx="1357.2" cy="752.3" r="3.4" fill="#5f9ea0"/>
<ellipse cx="1146.9" cy="883.1" rx="99" ry="8.5" transform="rotate(-21.5 1146.9 883.1)" fill="#d8e3f7" stroke="#5b93e6" stroke-width="2.5"/>
<circle cx="1120.7" cy="893.2" r="3.6" fill="#5b93e6"/>
<circle cx="1124.3" cy="894.2" r="3.6" fill="#5b93e6"/>
<circle cx="1142.7" cy="881.4" r="3.6" fill="#5b93e6"/>
<circle cx="1150.9" cy="879.8" r="3.6" fill="#5b93e6"/>
<circle cx="1161.1" cy="877.3" r="3.6" fill="#5b93e6"/>
<circle cx="1179" cy="872.2" r="3.6" fill="#5b93e6"/>
<ellipse cx="896.4" cy="884" rx="44" ry="17" transform="rotate(-13 896.4 884)" fill="#ffc4e4" stroke="#f5198f" stroke-width="2.5"/>
<circle cx="881.6" cy="887.5" r="3.4" fill="#f5198f"/>
<circle cx="894.9" cy="881.4" r="3.4" fill="#f5198f"/>
<circle cx="899" cy="876.8" r="3.4" fill="#f5198f"/>
<circle cx="894.9" cy="890.6" r="3.4" fill="#f5198f"/>
<circle cx="914.3" cy="879.8" r="3.4" fill="#f5198f"/>
<ellipse cx="1014" cy="923.4" rx="88.5" ry="16.5" transform="rotate(20 1014 923.4)" fill="#c0c0e2" stroke="#00008b" stroke-width="2.5"/>
<circle cx="989.6" cy="909.5" r="3.6" fill="#00008b"/>
<circle cx="996.3" cy="918.8" r="3.6" fill="#00008b"/>
<circle cx="1004.4" cy="925.4" r="3.6" fill="#00008b"/>
<circle cx="1020.3" cy="921.3" r="3.6" fill="#00008b"/>
<circle cx="1035.2" cy="930.5" r="3.6" fill="#00008b"/>
<ellipse cx="1398.5" cy="1025.5" rx="47" ry="78" transform="rotate(-13 1398.5 1025.5)" fill="#f2d6d6" stroke="#c95c5c" stroke-width="2.5"/>
<circle cx="1392" cy="1010.4" r="3.4" fill="#c95c5c"/>
<circle cx="1393.6" cy="1016" r="3.4" fill="#c95c5c"/>
<circle cx="1409" cy="1009.9" r="3.4" fill="#c95c5c"/>
<circle cx="1381.3" cy="1029.9" r="3.4" fill="#c95c5c"/>
<circle cx="1407.4" cy="1029.9" r="3.4" fill="#c95c5c"/>
<circle cx="1409.5" cy="1058.5" r="3.4" fill="#c95c5c"/>
<text transform="translate(1180.6,744.2) scale(0.983,1)" text-anchor="start" font-size="35.3" >Jujube</text>
<text transform="translate(855.4,848) scale(0.983,1)" text-anchor="start" font-size="35.3" >Acacia</text>
<text transform="translate(1107.9,844) scale(0.983,1)" text-anchor="start" font-size="35.3" >Coptis</text>
<text transform="translate(940,1001.7) scale(0.983,1)" text-anchor="start" font-size="35.3" >Multifloral</text>
<text transform="translate(1160.1,1066.7) scale(0.983,1)" text-anchor="start" font-size="35.3" >Motherwort</text>
<rect x="844.3" y="1252.2" width="633.2" height="509.29999999999995" fill="none" stroke="#000" stroke-width="3"/>
<line x1="835.3" y1="1251.5" x2="844.3" y2="1251.5" stroke="#000" stroke-width="3"/>
<text transform="translate(827.3,1261.4) scale(0.96,1)" text-anchor="end" font-size="35.3" >20</text>
<line x1="835.3" y1="1379" x2="844.3" y2="1379" stroke="#000" stroke-width="3"/>
<text transform="translate(827.3,1388.9) scale(0.96,1)" text-anchor="end" font-size="35.3" >10</text>
<line x1="835.3" y1="1506.5" x2="844.3" y2="1506.5" stroke="#000" stroke-width="3"/>
<text transform="translate(827.3,1516.4) scale(0.96,1)" text-anchor="end" font-size="35.3" >0</text>
<line x1="835.3" y1="1634" x2="844.3" y2="1634" stroke="#000" stroke-width="3"/>
<text transform="translate(827.3,1643.9) scale(0.96,1)" text-anchor="end" font-size="35.3" >-10</text>
<line x1="835.3" y1="1761.5" x2="844.3" y2="1761.5" stroke="#000" stroke-width="3"/>
<text transform="translate(827.3,1771.4) scale(0.96,1)" text-anchor="end" font-size="35.3" >-20</text>
<line x1="844.3" y1="1763.0" x2="844.3" y2="1771.0" stroke="#000" stroke-width="3"/>
<text transform="translate(844.3,1804.5) scale(0.96,1)" text-anchor="middle" font-size="35.3" >-30</text>
<line x1="949.8" y1="1763.0" x2="949.8" y2="1771.0" stroke="#000" stroke-width="3"/>
<text transform="translate(949.8,1804.5) scale(0.96,1)" text-anchor="middle" font-size="35.3" >-20</text>
<line x1="1055.4" y1="1763.0" x2="1055.4" y2="1771.0" stroke="#000" stroke-width="3"/>
<text transform="translate(1055.4,1804.5) scale(0.96,1)" text-anchor="middle" font-size="35.3" >-10</text>
<line x1="1161" y1="1763.0" x2="1161" y2="1771.0" stroke="#000" stroke-width="3"/>
<text transform="translate(1161,1804.5) scale(0.96,1)" text-anchor="middle" font-size="35.3" >0</text>
<line x1="1266.5" y1="1763.0" x2="1266.5" y2="1771.0" stroke="#000" stroke-width="3"/>
<text transform="translate(1266.5,1804.5) scale(0.96,1)" text-anchor="middle" font-size="35.3" >10</text>
<line x1="1372" y1="1763.0" x2="1372" y2="1771.0" stroke="#000" stroke-width="3"/>
<text transform="translate(1372,1804.5) scale(0.96,1)" text-anchor="middle" font-size="35.3" >20</text>
<line x1="1477.5" y1="1763.0" x2="1477.5" y2="1771.0" stroke="#000" stroke-width="3"/>
<text transform="translate(1477.5,1804.5) scale(0.96,1)" text-anchor="middle" font-size="35.3" >30</text>
<text transform="translate(740.8,1267.1) scale(1.12,1)" text-anchor="start" font-size="52" >f</text>
<text transform="translate(858,1296.6) scale(0.983,1)" text-anchor="start" font-size="35.3" >Jujube honey</text>
<text transform="translate(1160.5,1844.4) scale(0.94,1)" text-anchor="middle" font-size="35.3" >Factor 1, 92.57%</text>
<text transform="translate(766,1505) rotate(-90) scale(0.94,1)" x="0" y="0" text-anchor="middle" font-size="35.3">Factor 2, 7.35%</text>
<ellipse cx="966.5" cy="1553.6" rx="57" ry="47" transform="rotate(-45 966.5 1553.6)" fill="#d6e7e7" stroke="#5f9ea0" stroke-width="2.5"/>
<ellipse cx="1069.5" cy="1488.3" rx="27.4" ry="68.3" transform="rotate(10.7 1069.5 1488.3)" fill="#d6e7e7" stroke="#5f9ea0" stroke-width="2.5"/>
<ellipse cx="1253.8" cy="1447.1" rx="41" ry="48" transform="rotate(-10 1253.8 1447.1)" fill="#d6e7e7" stroke="#5f9ea0" stroke-width="2.5"/>
<ellipse cx="1350.6" cy="1575.4" rx="57" ry="33" transform="rotate(32 1350.6 1575.4)" fill="#d6e7e7" stroke="#5f9ea0" stroke-width="2.5"/>
<path d="M958,1532.2L968,1542.2M958,1542.2L968,1532.2" stroke="#5f9ea0" stroke-width="1.4"/>
<path d="M976.9,1537.3L986.9,1547.3M976.9,1547.3L986.9,1537.3" stroke="#5f9ea0" stroke-width="1.4"/>
<path d="M954.4,1542.5L964.4,1552.5M954.4,1552.5L964.4,1542.5" stroke="#5f9ea0" stroke-width="1.4"/>
<path d="M946.2,1560.9L956.2,1570.9M946.2,1570.9L956.2,1560.9" stroke="#5f9ea0" stroke-width="1.4"/>
<path d="M956.4,1557.8L966.4,1567.8M956.4,1567.8L966.4,1557.8" stroke="#5f9ea0" stroke-width="1.4"/>
<path d="M974.4,1559.4L984.4,1569.4M974.4,1569.4L984.4,1559.4" stroke="#5f9ea0" stroke-width="1.4"/>
<path d="M1067,1464H1077M1072,1459V1469" stroke="#5f9ea0" stroke-width="1.4"/>
<path d="M1067,1480.9H1077M1072,1475.9V1485.9" stroke="#5f9ea0" stroke-width="1.4"/>
<path d="M1061.9,1484.5H1071.9M1066.9,1479.5V1489.5" stroke="#5f9ea0" stroke-width="1.4"/>
<path d="M1070.6,1491.1H1080.6M1075.6,1486.1V1496.1" stroke="#5f9ea0" stroke-width="1.4"/>
<path d="M1051.2,1503.9H1061.2M1056.2,1498.9V1508.9" stroke="#5f9ea0" stroke-width="1.4"/>
<path d="M1067,1507.5H1077M1072,1502.5V1512.5" stroke="#5f9ea0" stroke-width="1.4"/>
<circle cx="1244.6" cy="1427.1" r="4" fill="#5f9ea0"/>
<circle cx="1250.7" cy="1448.6" r="4" fill="#5f9ea0"/>
<circle cx="1261" cy="1444" r="4" fill="#5f9ea0"/>
<circle cx="1270.2" cy="1445.6" r="4" fill="#5f9ea0"/>
<circle cx="1244.6" cy="1459.4" r="4" fill="#5f9ea0"/>
<circle cx="1253.3" cy="1456.8" r="4" fill="#5f9ea0"/>
<rect x="1345.1" y="1553.7" width="9" height="9" fill="none" stroke="#5f9ea0" stroke-width="1.3"/>
<rect x="1327.1" y="1567.0" width="9" height="9" fill="none" stroke="#5f9ea0" stroke-width="1.3"/>
<rect x="1341.5" y="1569.6" width="9" height="9" fill="none" stroke="#5f9ea0" stroke-width="1.3"/>
<rect x="1345.1" y="1571.1" width="9" height="9" fill="none" stroke="#5f9ea0" stroke-width="1.3"/>
<rect x="1356.8" y="1577.8" width="9" height="9" fill="none" stroke="#5f9ea0" stroke-width="1.3"/>
<rect x="1360.4" y="1582.9" width="9" height="9" fill="none" stroke="#5f9ea0" stroke-width="1.3"/>
<text transform="translate(1233.3,1392.8) scale(0.983,1)" text-anchor="start" font-size="35.3" >Tongrentang</text>
<text transform="translate(923,1412.8) scale(0.983,1)" text-anchor="start" font-size="35.3" >Guanshengyuan</text>
<text transform="translate(883.6,1496.3) scale(0.983,1)" text-anchor="start" font-size="35.3" >Baihua</text>
<text transform="translate(1223.1,1640.6) scale(0.983,1)" text-anchor="start" font-size="35.3" >Wangshi</text>
</svg></body></html>
